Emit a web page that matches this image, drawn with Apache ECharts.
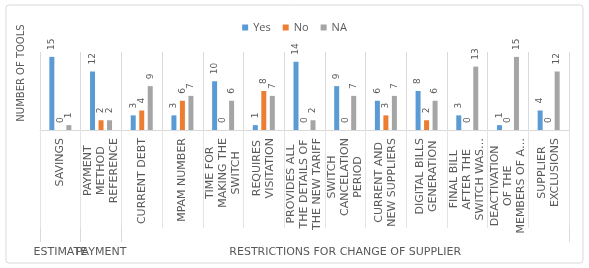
<!DOCTYPE html>
<html>
<head>
<meta charset="utf-8">
<script src="https://cdn.jsdelivr.net/npm/echarts@6/dist/echarts.min.js"></script>
<style>
  html, body { margin: 0; padding: 0; background: #fff; }
  #main { width: 589px; height: 268px; }
</style>
</head>
<body>
<div id="main"></div>
<script>
// categories (line breaks as shown in the picture)
var categories = [
  "SAVINGS",
  "PAYMENT\nMETHOD\nREFERENCE",
  "CURRENT DEBT",
  "MPAM NUMBER",
  "TIME FOR\nMAKING THE\nSWITCH",
  "REQUIRES\nVISITATION",
  "PROVIDES ALL\nTHE DETAILS OF\nTHE NEW TARIFF",
  "SWITCH\nCANCELATION\nPERIOD",
  "CURRENT AND\nNEW SUPPLIERS",
  "DIGITAL BILLS\nGENERATION",
  "FINAL BILL\nAFTER THE\nSWITCH WAS…",
  "DEACTIVATION\nOF THE\nMEMBERS OF A…",
  "SUPPLIER\nEXCLUSIONS"
];
// second level labels, placed under the middle category of each group
var groupLabels = ["ESTIMATE", "PAYMENT", "", "", "", "", "", "RESTRICTIONS FOR CHANGE OF SUPPLIER", "", "", "", "", ""];

var yesData = [15, 12, 3, 3, 10, 1, 14, 9, 6, 8, 3, 1, 4];
var noData  = [0, 2, 4, 6, 0, 8, 0, 0, 3, 2, 0, 0, 0];
var naData  = [1, 2, 9, 7, 6, 7, 2, 7, 7, 6, 13, 15, 12];

var textColor = "#595959";
var lineColor = "#D9D9D9";
var font = "DejaVu Sans";

var myChart = echarts.init(document.getElementById("main"));

function barLabel() {
  return {
    show: true,
    position: "top",
    rotate: 90,
    align: "left",
    verticalAlign: "middle",
    distance: 7,
    fontSize: 9,
    fontFamily: font,
    color: textColor
  };
}

myChart.setOption({
  animation: false,
  color: ["#5B9BD5", "#ED7D31", "#A5A5A5"],
  legend: {
    top: 17,
    left: "center",
    itemWidth: 6,
    itemHeight: 6,
    itemGap: 12,
    icon: "rect",
    textStyle: { fontSize: 11, fontFamily: "Open Sans", color: textColor },
    data: ["Yes", "No", "NA"]
  },
  grid: {
    left: 40,
    right: 20,
    top: 52,
    bottom: 138,
    containLabel: false,
    outerBoundsMode: "none"
  },
  xAxis: [
    {
      type: "category",
      data: categories,
      min: 0,
      max: 12,
      axisLine: { show: true, lineStyle: { color: lineColor } },
      axisTick: { show: true, interval: 0, length: 98, lineStyle: { color: "#E4E4E4" } },
      splitLine: { show: true, interval: 0, lineStyle: { color: lineColor } },
      axisLabel: {
        interval: 0,
        rotate: 90,
        margin: 8,
        formatter: function (v) {
          return v.split("\n").map(function (s) { return "{c|" + s + "}"; }).join("\n");
        },
        rich: {
          c: { align: "center", fontSize: 11, fontFamily: font, color: textColor, lineHeight: 13 }
        }
      }
    },
    {
      type: "category",
      data: groupLabels,
      position: "bottom",
      offset: 98,
      min: 0,
      max: 12,
      axisLine: { show: false },
      axisTick: {
        show: true,
        length: 14,
        interval: function (i) { return i <= 2; },
        lineStyle: { color: lineColor }
      },
      axisLabel: {
        interval: 0,
        margin: 19,
        fontSize: 11,
        fontFamily: font,
        color: textColor
      }
    }
  ],
  yAxis: {
    type: "value",
    min: 0,
    max: 16,
    show: false
  },
  graphic: [
    {
      type: "rect",
      shape: { x: 6, y: 5, width: 577, height: 258, r: 3 },
      style: { fill: "none", stroke: lineColor, lineWidth: 1 },
      silent: true
    },
    {
      type: "text",
      x: 21,
      y: 73,
      rotation: Math.PI / 2,
      style: {
        text: "NUMBER OF TOOLS",
        align: "center",
        verticalAlign: "middle",
        fontSize: 10,
        fontFamily: font,
        fill: textColor
      }
    }
  ],
  series: [
    { name: "Yes", type: "bar", data: yesData, barWidth: 5, barGap: "70%", label: barLabel() },
    { name: "No", type: "bar", data: noData, barWidth: 5, barGap: "70%", label: barLabel() },
    { name: "NA", type: "bar", data: naData, barWidth: 5, barGap: "70%", label: barLabel() }
  ]
});
</script>
</body>
</html>
